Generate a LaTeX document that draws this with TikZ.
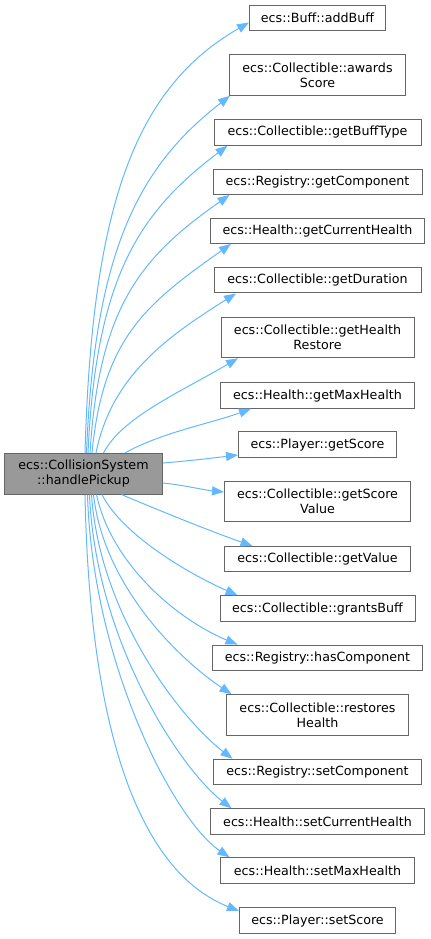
\documentclass[tikz,border=0pt]{standalone}
\usepackage{fontspec}
\setmainfont{DejaVu Sans}
\usetikzlibrary{arrows.meta,calc}
\definecolor{edgeblue}{HTML}{63B8FF}
\definecolor{boxgray}{HTML}{666666}
\definecolor{srcfill}{HTML}{999999}
\tikzset{
  fn/.style={draw=boxgray, line width=0.75pt, fill=white, inner sep=0pt, align=center,
    font=\fontsize{9.5}{11.25}\selectfont, minimum height=19.1pt},
  fn2/.style={fn, minimum height=30.4pt},
  srcbox/.style={fn2, fill=srcfill},
  call/.style={draw=edgeblue, line width=0.75pt, -{Triangle[length=9pt,width=6.8pt]}}
}
\begin{document}
\begin{tikzpicture}[x=0.75pt,y=-0.75pt]
\useasboundingbox (0,0) rectangle (431,939);
\node[srcbox, minimum width=118.5pt] (src) at (83.5,473.75) {ecs::CollisionSystem\\::handlePickup};
\node[fn,  minimum width=102pt]    (n1)  at (317.5,17.75)  {ecs::Buff::addBuff};
\node[fn2, minimum width=132pt]    (n2)  at (317.5,75)     {ecs::Collectible::awards\\Score};
\node[fn,  minimum width=155.25pt] (n3)  at (317.5,132.5)  {ecs::Collectible::getBuffType};
\node[fn,  minimum width=156.75pt] (n4)  at (317.5,181.75) {ecs::Registry::getComponent};
\node[fn,  minimum width=160.5pt]  (n5)  at (317.5,230.75) {ecs::Health::getCurrentHealth};
\node[fn,  minimum width=155.25pt] (n6)  at (317.5,280.25) {ecs::Collectible::getDuration};
\node[fn2, minimum width=144.75pt] (n7)  at (317.5,337.5)  {ecs::Collectible::getHealth\\Restore};
\node[fn,  minimum width=145.5pt]  (n8)  at (317.5,395.5)  {ecs::Health::getMaxHealth};
\node[fn,  minimum width=118.5pt]  (n9)  at (317.5,444.5)  {ecs::Player::getScore};
\node[fn2, minimum width=139.5pt]  (n10) at (317.5,501.7)  {ecs::Collectible::getScore\\Value};
\node[fn,  minimum width=139.5pt]  (n11) at (317.5,559.2)  {ecs::Collectible::getValue};
\node[fn,  minimum width=146.25pt] (n12) at (317.5,608.5)  {ecs::Collectible::grantsBuff};
\node[fn,  minimum width=157.5pt]  (n13) at (317.5,657.8)  {ecs::Registry::hasComponent};
\node[fn2, minimum width=136.5pt]  (n14) at (317.5,715)    {ecs::Collectible::restores\\Health};
\node[fn,  minimum width=156pt]    (n15) at (317.5,772)    {ecs::Registry::setComponent};
\node[fn,  minimum width=160.5pt]  (n16) at (317.5,821.5)  {ecs::Health::setCurrentHealth};
\node[fn,  minimum width=145.5pt]  (n17) at (317.5,870.5)  {ecs::Health::setMaxHealth};
\node[fn,  minimum width=117pt]    (n18) at (317.5,920.5)  {ecs::Player::setScore};
% upper edges
\draw[call] ($(src.north)+(1.5,0)$)  .. controls +(7,-250) and +(-113,65) .. ($(n1.west)+(0,4.75)$);
\draw[call] ($(src.north)+(3,0)$)    .. controls +(8,-205) and +(-90,70) .. ($(n2.south west)+(1,0)$);
\draw[call] ($(src.north)+(4.5,0)$)  .. controls +(8,-175) and +(-89,67) .. ($(n3.south west)+(14,0)$);
\draw[call] ($(src.north)+(6.5,0)$)  .. controls +(9,-145) and +(-90,63) .. ($(n4.south west)+(17,0)$);
\draw[call] ($(src.north)+(8.5,0)$)  .. controls +(11,-115) and +(-85,60) .. ($(n5.south west)+(21,0)$);
\draw[call] ($(src.north)+(12.5,0)$) .. controls +(15,-75) and +(-72,45) .. ($(n6.south west)+(22.5,0)$);
\draw[call] ($(src.north)+(20,0)$)   .. controls +(18,-35) and +(-60,35) .. ($(n7.south west)+(17.5,0)$);
\draw[call] ($(src.north)+(41.5,0)$) .. controls +(35,-20) and +(-38,14) .. ($(n8.south west)+(31,0)$);
% side edges
\draw[call] ($(src.east)+(0,-10.75)$) .. controls +(25,-2) and +(-25,3) .. ($(n9.west)+(0,10.5)$);
\draw[call] ($(src.east)+(0,9.25)$)   .. controls +(20,2) and +(-20,-2) .. ($(n10.west)+(0,-9.7)$);
% lower edges
\draw[call] ($(src.south)+(38,0)$)   .. controls +(40,17) and +(-40,-14) .. ($(n11.north west)+(28.5,0)$);
\draw[call] ($(src.south)+(18.5,0)$) .. controls +(20,40) and +(-50,-22) .. ($(n12.north west)+(18,0)$);
\draw[call] ($(src.south)+(13,0)$)   .. controls +(15,70) and +(-60,-25) .. ($(n13.north west)+(25.5,0)$);
\draw[call] ($(src.south)+(10,0)$)   .. controls +(10,90) and +(-55,-37) .. ($(n14.north west)+(5.5,0)$);
\draw[call] ($(src.south)+(8,0)$)    .. controls +(8,120) and +(-52,-40) .. ($(n15.north west)+(19.5,0)$);
\draw[call] ($(src.south)+(6,0)$)    .. controls +(6,145) and +(-52,-40) .. ($(n16.north west)+(21.5,0)$);
\draw[call] ($(src.south)+(4,0)$)    .. controls +(5,170) and +(-55,-37) .. ($(n17.north west)+(9.5,0)$);
\draw[call] ($(src.south)+(1.5,0)$)  .. controls +(5,250) and +(-95,-38) .. ($(n18.west)+(0,-9.5)$);
\end{tikzpicture}
\end{document}
